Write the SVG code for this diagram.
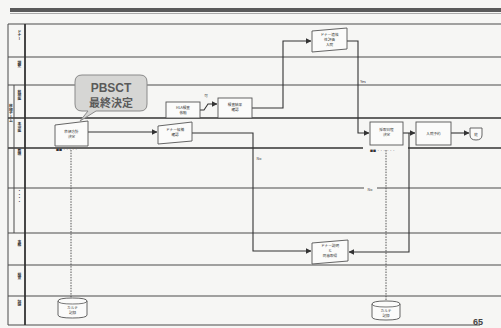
<svg xmlns="http://www.w3.org/2000/svg" width="501" height="328" viewBox="0 0 501 328">
<defs>
<style>
.bg{fill:#f6f6f4}
.lane{stroke:#4a4a4a;stroke-width:1;fill:none}
.lane2{stroke:#333;stroke-width:1.6;fill:none}
.node{fill:#fbfbfa;stroke:#555;stroke-width:0.9}
.conn{stroke:#333;stroke-width:1.1;fill:none}
.dot{stroke:#444;stroke-width:0.9;fill:none;stroke-dasharray:1.5 1.2}
.t{font-family:"Noto Sans CJK JP","Liberation Sans",sans-serif;font-size:3.6px;fill:#333;text-anchor:middle}
.lbl{font-family:"Noto Sans CJK JP","Liberation Sans",sans-serif;font-size:3.8px;fill:#333;writing-mode:tb;text-anchor:middle;font-weight:bold}
.call{font-family:"Liberation Sans","Noto Sans CJK JP",sans-serif;font-weight:bold;fill:#5a5a5a;text-anchor:middle}
</style>
<marker id="ah" viewBox="0 0 6 6" refX="5.5" refY="3" markerWidth="5" markerHeight="5" orient="auto">
<path d="M0,0 L6,3 L0,6 z" fill="#333"/>
</marker>
</defs>
<rect class="bg" x="0" y="0" width="501" height="328"/>
<rect x="10" y="8" width="491" height="4" fill="#5a5a5a"/>
<line x1="10" y1="13.5" x2="501" y2="13.5" stroke="#aaa" stroke-width="1"/>

<g id="lanes">
<line class="lane" x1="8" y1="24" x2="501" y2="24"/>
<line class="lane" x1="8" y1="57" x2="501" y2="57"/>
<line class="lane" x1="8" y1="85" x2="501" y2="85"/>
<line class="lane2" x1="8" y1="118" x2="501" y2="118"/>
<line class="lane2" x1="8" y1="148" x2="363" y2="148"/>
<line class="lane2" x1="408" y1="148" x2="501" y2="148"/>
<line class="lane" x1="8" y1="188" x2="364" y2="188"/>
<line class="lane" x1="377" y1="188" x2="501" y2="188"/>
<line class="lane" x1="8" y1="233" x2="501" y2="233"/>
<line class="lane" x1="8" y1="265" x2="501" y2="265"/>
<line class="lane" x1="8" y1="296" x2="501" y2="296"/>
<line class="lane" x1="8" y1="325" x2="480" y2="325"/>
<line class="lane" x1="8" y1="24" x2="8" y2="325"/>
<line class="lane" x1="14" y1="85" x2="14" y2="233"/>
<line x1="25" y1="24" x2="25" y2="325" stroke="#333" stroke-width="1.8"/>
<text class="lbl" x="19.5" y="35">ドナー</text>
<text class="lbl" x="19.5" y="64">調整</text>
<text class="lbl" x="19.5" y="95">移植医</text>
<text class="lbl" x="19.5" y="127">主治医</text>
<text class="lbl" x="19.5" y="152">看護</text>
<text class="lbl" x="19.5" y="196">・・・・</text>
<text class="lbl" x="19.5" y="243">事務</text>
<text class="lbl" x="19.5" y="276">検査</text>
<text class="lbl" x="19.5" y="303">記録</text>
<text class="lbl" x="11" y="113">移植チーム</text>
<text x="478" y="325" style="font-size:9px;font-weight:bold;fill:#444;font-family:'Liberation Sans',sans-serif;text-anchor:middle">65</text>
</g>

<g id="connectors">
<path class="conn" d="M88,132 H157" marker-end="url(#ah)"/>
<path class="conn" d="M200,110 H204 L208,104 H217" marker-end="url(#ah)"/>
<path class="conn" d="M252,108 H283 V41 H311" marker-end="url(#ah)"/>
<path class="conn" d="M347,41 H358 V133 H369" marker-end="url(#ah)"/>
<path class="conn" d="M192,133 H253 V251 H311" marker-end="url(#ah)"/>
<path class="conn" d="M403,133 H415" marker-end="url(#ah)"/>
<path class="conn" d="M409,133 V252 H349" marker-end="url(#ah)"/>
<path class="conn" d="M451,133 H469" marker-end="url(#ah)"/>
<path class="dot" d="M71,150 V298"/>
<path class="dot" d="M386,150 V301"/>
<text class="t" x="363" y="83">Yes</text>
<text class="t" x="370" y="191">No</text>
<text class="t" x="259" y="160">No</text>
<text class="t" x="206" y="97">可</text>
</g>

<g id="callout">
<path d="M82,75 H140 Q147,75 147,82 V104 Q147,111 140,111 H96 L80,121 L88,111 H82 Q75,111 75,104 V82 Q75,75 82,75 z" fill="#d6d6d4" stroke="#8a8a8a" stroke-width="1"/>
<text class="call" x="111" y="92" font-size="12">PBSCT</text>
<text class="call" x="111" y="107" font-size="11" style="font-family:'Noto Sans CJK JP',sans-serif">最終決定</text>
</g>

<g id="nodeA">
<polygon class="node" points="55,125 88,121 88,146 55,146"/>
<text class="t" x="71.5" y="133">移植方針</text>
<text class="t" x="71.5" y="138">決定</text>
<text class="t" x="56" y="151" style="text-anchor:start;font-size:3px">■■ ・・・・・</text>
</g>
<g id="nodeB">
<polygon class="node" points="158,126 192,122 192,141 158,144"/>
<text class="t" x="175" y="131">ドナー候補</text>
<text class="t" x="175" y="136">確認</text>
</g>
<g id="nodeC">
<rect class="node" x="166" y="102" width="34" height="16"/>
<text class="t" x="183" y="108.5">HLA検査</text>
<text class="t" x="183" y="113.5">依頼</text>
</g>
<g id="nodeD">
<rect class="node" x="218" y="98" width="34" height="20"/>
<text class="t" x="235" y="106">検査結果</text>
<text class="t" x="235" y="111">確認</text>
</g>
<g id="nodeE">
<polygon class="node" points="312,31 347,28 347,49 312,52"/>
<text class="t" x="329.5" y="36">ドナー適格</text>
<text class="t" x="329.5" y="41">性評価</text>
<text class="t" x="329.5" y="46">入院</text>
</g>
<g id="nodeF">
<rect class="node" x="370" y="122" width="33" height="23"/>
<text class="t" x="386.5" y="131">採取日程</text>
<text class="t" x="386.5" y="136">決定</text>
<text class="t" x="370" y="152" style="text-anchor:start;font-size:3px">■■ ・・・ ・・・</text>
</g>
<g id="nodeG">
<rect class="node" x="416" y="122" width="35" height="23"/>
<text class="t" x="433.5" y="135">入院予約</text>
</g>
<g id="nodeI">
<path class="node" d="M470,128 H482 V135 Q482,140 476,140 Q470,140 470,135 z"/>
<text class="t" x="476" y="135.5">終</text>
</g>
<g id="nodeH">
<polygon class="node" points="312,243 348,240 348,261 312,264"/>
<text class="t" x="330" y="247">ドナー説明</text>
<text class="t" x="330" y="252">と</text>
<text class="t" x="330" y="257">同意取得</text>
</g>
<g id="db1">
<path class="node" d="M58,301 Q58,298 72.5,298 Q87,298 87,301 V315 Q87,318 72.5,318 Q58,318 58,315 z"/>
<path d="M58,301 Q58,304 72.5,304 Q87,304 87,301" fill="none" stroke="#555" stroke-width="0.8"/>
<text class="t" x="72.5" y="309">カルテ</text>
<text class="t" x="72.5" y="314">記録</text>
</g>
<g id="db2">
<path class="node" d="M372,304 Q372,301 386,301 Q400,301 400,304 V317 Q400,320 386,320 Q372,320 372,317 z"/>
<path d="M372,304 Q372,307 386,307 Q400,307 400,304" fill="none" stroke="#555" stroke-width="0.8"/>
<text class="t" x="386" y="312">カルテ</text>
<text class="t" x="386" y="317">記録</text>
</g>
</svg>
